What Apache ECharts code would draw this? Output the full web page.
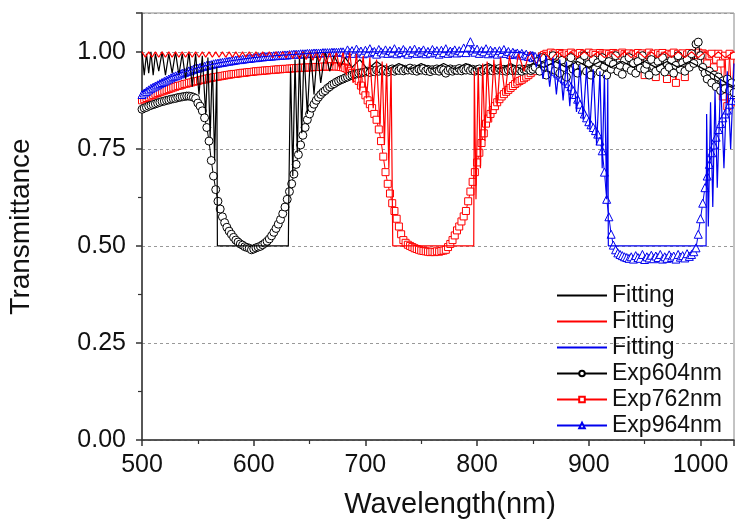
<!DOCTYPE html>
<html><head><meta charset="utf-8">
<script src="https://cdn.jsdelivr.net/npm/echarts@6/dist/echarts.min.js"></script>
<style>html,body{margin:0;padding:0;background:#fff}#c{width:735px;height:523px}</style>
</head><body><div id="c"></div>
<script>
// ---------- DATA ----------
const expWavelength = [
500,502,504,506,508,510,512,514,516,518,
520,522,524,526,528,530,532,534,536,538,
540,542,544,546,548,550,552,554,556,558,
560,562,564,566,568,570,572,574,576,578,
580,582,584,586,588,590,592,594,596,598,
600,602,604,606,608,610,612,614,616,618,
620,622,624,626,628,630,632,634,636,638,
640,642,644,646,648,650,652,654,656,658,
660,662,664,666,668,670,672,674,676,678,
680,682,684,686,688,690,692,694,696,698,
700,702,704,706,708,710,712,714,716,718,
720,722,724,726,728,730,732,734,736,738,
740,742,744,746,748,750,752,754,756,758,
760,762,764,766,768,770,772,774,776,778,
780,782,784,786,788,790,792,794,796,798,
800,802,804,806,808,810,812,814,816,818,
820,822,824,826,828,830,832,834,836,838,
840,842,844,846,848,850,852,854,856,858,
860,862,864,866,868,870,872,874,876,878,
880,882,884,886,888,890,892,894,896,898,
900,902,904,906,908,910,912,914,916,918,
920,922,924,926,928,930,932,934,936,938,
940,942,944,946,948,950,952,954,956,958,
960,962,964,966,968,970,972,974,976,978,
980,982,984,986,988,990,992,994,996,998,
1000,1002,1004,1006,1008,1010,1012,1014,1016,1018,
1020,1022,1024,1026,1028,1030];

const exp604 = [
.852,.855,.857,.860,.862,.864,.866,.868,.870,.872,
.873,.875,.876,.878,.879,.880,.882,.883,.884,.885,
.886,.886,.885,.883,.880,.868,.860,.848,.830,.805,
.770,.720,.680,.645,.615,.595,.575,.560,.548,.538,
.530,.522,.515,.510,.505,.502,.498,.496,.494,.490,
.492,.495,.497,.499,.503,.507,.512,.518,.526,.535,
.545,.556,.568,.583,.600,.620,.640,.660,.685,.710,
.735,.760,.785,.805,.825,.840,.855,.865,.875,.883,
.890,.896,.900,.906,.910,.915,.918,.922,.925,.928,
.930,.933,.935,.938,.940,.942,.943,.945,.946,.947,
.948,.950,.947,.952,.949,.953,.950,.955,.951,.954,
.948,.953,.956,.950,.954,.952,.957,.951,.955,.953,
.958,.952,.956,.950,.955,.953,.957,.951,.955,.949,
.954,.952,.956,.950,.955,.953,.945,.952,.956,.950,
.954,.952,.957,.951,.955,.953,.958,.952,.955,.950,
.954,.956,.950,.953,.957,.952,.955,.951,.956,.953,
.957,.952,.955,.950,.953,.956,.951,.954,.952,.956,
.950,.955,.953,.957,.952,.955,.960,.975,.950,.985,
.962,.940,.970,.958,.990,.952,.968,.945,.978,.960,
.935,.970,.985,.955,.965,.945,.975,.960,.990,.950,
.968,.940,.980,.958,.972,.948,.985,.962,.940,.975,
.955,.968,.990,.950,.965,.942,.978,.960,.985,.952,
.970,.945,.975,.958,.990,.955,.968,.940,.980,.962,
.950,.975,.958,.985,.948,.970,.960,.978,.945,.965,
.990,.955,.972,.950,.980,.960,.995,.970,1.020,1.025,
.990,.960,.945,.930,.950,.920,.940,.910,.935,.900,
.925,.905,.930,.900,.920,.895];

const exp762 = [
.875,.878,.881,.884,.887,.889,.892,.894,.896,.898,
.900,.902,.904,.906,.908,.910,.912,.913,.915,.917,
.918,.920,.921,.923,.924,.925,.927,.928,.929,.931,
.932,.933,.934,.935,.936,.937,.938,.939,.940,.941,
.942,.943,.943,.944,.945,.946,.946,.947,.948,.948,
.949,.950,.950,.951,.951,.952,.952,.953,.953,.954,
.954,.955,.955,.956,.956,.956,.957,.957,.958,.958,
.958,.959,.959,.959,.960,.960,.960,.961,.961,.961,
.961,.962,.962,.962,.962,.963,.963,.962,.962,.961,
.960,.958,.955,.950,.945,.940,.933,.925,.913,.900,
.888,.875,.865,.855,.840,.825,.800,.770,.730,.690,
.660,.635,.610,.590,.570,.550,.530,.515,.508,.503,
.500,.497,.494,.492,.490,.488,.487,.486,.485,.484,
.485,.484,.486,.485,.487,.488,.490,.497,.505,.515,
.527,.540,.550,.563,.576,.590,.615,.640,.665,.690,
.715,.740,.765,.790,.815,.828,.840,.850,.860,.870,
.878,.885,.891,.897,.902,.907,.912,.917,.921,.925,
.928,.932,.936,.940,.945,.950,.960,.970,.980,.988,
.992,.995,.990,.998,.993,.996,.990,.997,.994,.990,
.996,.992,.998,.990,.995,.993,.997,.990,.995,.993,
.998,.990,.996,.992,.985,.997,.993,.990,.996,.994,
.990,.997,.993,.995,.990,.998,.994,.992,.996,.990,
.995,.993,.997,.990,.996,.940,.993,.998,.990,.995,
.935,.996,.992,.997,.990,.930,.995,.993,.998,.920,
.995,.990,.996,.935,.993,.997,.990,.995,.992,.998,
.990,.996,.993,.970,.990,.995,.960,.980,.995,.970,
.885,.990,.860,.995,.870,.990];

const exp964 = [
.890,.894,.898,.902,.906,.909,.912,.915,.918,.921,
.924,.927,.930,.933,.936,.938,.940,.943,.945,.947,
.949,.951,.953,.955,.957,.958,.960,.962,.963,.965,
.966,.967,.969,.970,.971,.972,.973,.974,.975,.976,
.977,.978,.979,.980,.980,.981,.982,.983,.983,.984,
.985,.985,.986,.987,.987,.988,.988,.989,.989,.990,
.990,.991,.991,.992,.992,.992,.993,.993,.994,.994,
.994,.995,.995,.995,.996,.996,.996,.997,.997,.997,
.997,.998,.998,.998,.998,.999,.999,.999,.999,1.000,
1.000,.995,1.005,.998,1.003,.996,1.007,.999,1.002,.995,
1.004,.997,1.008,.999,1.001,.994,1.006,1.000,.997,1.005,
.996,1.003,.999,1.008,.995,1.002,.998,1.006,1.000,.994,
1.004,.998,1.007,.996,1.002,.999,1.005,.995,1.001,.997,
1.006,.999,1.003,.994,1.004,.998,1.008,.996,1.002,.999,
1.005,.997,1.003,.999,1.010,.998,1.012,1.026,1.004,.999,
1.007,.996,1.003,1.000,1.008,.995,1.004,.998,1.002,.994,
1.003,.997,1.006,.996,1.001,.993,.999,.995,.997,.992,
.996,.990,.994,.988,.991,.985,.988,.982,.984,.978,
.975,.970,.966,.960,.955,.950,.945,.940,.935,.930,
.925,.918,.910,.900,.890,.878,.865,.852,.840,.830,
.820,.812,.805,.797,.788,.770,.745,.690,.620,.575,
.530,.502,.490,.482,.478,.475,.472,.470,.468,.472,
.466,.475,.470,.468,.478,.465,.472,.469,.476,.467,
.474,.470,.478,.466,.472,.468,.477,.470,.474,.466,
.478,.471,.475,.469,.480,.473,.478,.485,.495,.530,
.570,.610,.650,.680,.710,.740,.760,.780,.800,.815,
.830,.840,.850,.865,.875,.890];

// Fitting curves: [wavelength, transmittance]
const fit604 = [
[500,1.0],[502,.94],[504,.995],[506,.945],[508,1.0],[510,.94],[512,.995],[515,.95],[518,1.0],[521,.94],
[524,.995],[527,.945],[530,1.0],[533,.94],[536,.995],[539,.93],[542,1.0],[545,.91],[548,.995],[551,.89],
[554,.99],[557,.84],[559,.985],[561,.78],[563,.975],[565,.72],[567,.96],[567.5,.5],[631,.5],[631.5,.64],
[633,.96],[635,.68],[637,.98],[639,.74],[641,.99],[643,.79],[645,1.0],[648,.84],[651,1.0],[654,.89],
[657,1.0],[660,.92],[664,1.0],[668,.95],[672,.99],[677,.96],[682,.985],[688,.96],[695,.98],[702,.955],
[710,.975],[720,.955],[730,.97],[740,.955],[750,.97],[760,.955],[770,.97],[780,.955],[790,.97],[800,.955],
[810,.97],[820,.955],[830,.97],[840,.955],[850,.97],[860,.96],[870,.975],[880,.96],[890,.975],[900,.96],
[910,.975],[920,.96],[930,.975],[940,.96],[950,.975],[960,.96],[970,.975],[980,.96],[990,.975],[1000,.96],
[1010,.945],[1020,.925],[1030,.91]];

const fit762 = [
[500,1],[503,.986],[506,1],[509,.986],[512,1],[515,.986],[518,1],[521,.986],[524,1],[527,.986],
[530,1],[533,.986],[536,1],[539,.986],[542,1],[545,.986],[548,1],[551,.986],[554,1],[557,.986],
[560,1],[563,.986],[566,1],[569,.986],[572,1],[575,.986],[578,1],[581,.986],[584,1],[587,.986],
[590,1],[593,.986],[596,1],[599,.986],[602,1],[605,.986],[608,1],[611,.986],[614,1],[617,.985],
[620,1],[623,.985],[626,1],[629,.984],[632,1],[635,.983],[638,1],[641,.982],[644,1],[647,.98],
[650,1],[653,.978],[656,1],[659,.975],[662,1],[665,.97],[668,1],[671,.965],[674,1],[677,.955],
[680,1],[683,.94],[686,1],[689,.92],[692,.995],[695,.9],[698,.99],[701,.88],[704,.985],[707,.855],
[710,.98],[713,.81],[715,.975],[717,.76],[719,.97],[721,.7],[723,.96],[724.5,.5],[797,.5],[797.5,.95],
[799,.62],[801,.96],[803,.7],[805,.97],[807,.77],[809,.975],[812,.82],[815,.98],[818,.86],[821,.985],
[825,.89],[829,.99],[833,.92],[837,.995],[842,.95],[847,1],[853,.97],[860,1],[866,.98],[872,1],
[878,.985],[884,1],[890,.985],[896,1],[902,.985],[908,1],[914,.985],[920,1],[926,.985],[932,1],
[938,.985],[944,1],[950,.985],[956,1],[962,.985],[968,1],[974,.985],[980,1],[986,.985],[992,1],
[998,.985],[1004,1],[1010,.985],[1016,1],[1022,.985],[1030,1]];

const fit964 = [
[500,.895],[505,.905],[510,.912],[515,.922],[520,.928],[525,.935],[530,.94],[535,.946],[540,.95],[545,.955],
[550,.959],[555,.963],[560,.966],[565,.969],[570,.972],[580,.977],[590,.981],[600,.985],[610,.988],[620,.99],
[630,.992],[640,.994],[650,.996],[660,.998],[670,.999],[680,1],[700,1],[720,1],[740,1],[760,1],
[780,1],[800,1],[820,1],[840,.998],[846,.99],[850,1],[853,.96],[856,.995],[859,.93],[862,.99],
[865,.91],[868,.985],[871,.89],[874,.98],[877,.875],[880,.975],[883,.86],[886,.97],[889,.845],[892,.965],
[895,.825],[898,.96],[901,.8],[904,.955],[907,.76],[910,.95],[912,.7],[914,.94],[916,.62],[917,.93],
[917.5,.5],[1005,.5],[1005.5,.84],[1007,.55],[1009,.87],[1011,.6],[1013,.9],[1015,.65],[1018,.93],[1021,.7],
[1024,.95],[1027,.75],[1030,.97]];

const xTicks = {min:500, max:1030, step:100};
const yTicks = {min:0, max:1.1, step:0.25};
const seriesNames = ['Fitting#1','Fitting#2','Fitting#3','Exp604nm','Exp762nm','Exp964nm'];

// ---------- CHART ----------
const zip = (xs, ys) => ys.map((y, i) => [xs[i], y]);
const FONT = 'Liberation Sans, Arial, sans-serif';
const axisCol = '#333';
const chart = echarts.init(document.getElementById('c'), null, {renderer:'canvas'});

function fitSeries(name, data, color){
  return {name, type:'line', data, symbol:'none', showSymbol:false, z:5,
    lineStyle:{color, width:1.2}, itemStyle:{color}, emphasis:{disabled:true}};
}
function expSeries(name, data, color, symbol, size, z){
  return {name, type:'line', data, symbol, symbolSize:size, showSymbol:true, z,
    lineStyle:{color, width:1}, itemStyle:{color:'#fff', borderColor:color, borderWidth:1},
    emphasis:{disabled:true}};
}

chart.setOption({
  animation:false,
  backgroundColor:'#fff',
  grid:{left:142, right:1, top:13, bottom:83, containLabel:false, outerBoundsMode:'none',
    show:true, borderColor:'#888', borderWidth:1},
  legend:{
    data:seriesNames.map(n => n.startsWith('Fitting') ? {name:n, itemStyle:{opacity:0}} : {name:n}),
    orient:'vertical', left:551, top:279,
    itemWidth:50, itemHeight:7, itemGap:3, selectedMode:false,
    formatter:n => n.startsWith('Fitting') ? 'Fitting' : n,
    textStyle:{fontFamily:FONT, fontSize:23, color:'#111'}
  },
  xAxis:{
    type:'value', min:xTicks.min, max:xTicks.max, interval:xTicks.step,
    axisLine:{lineStyle:{color:axisCol, width:1.5}},
    axisTick:{length:6, lineStyle:{color:axisCol, width:1.5}},
    minorTick:{show:true, splitNumber:2, length:4, lineStyle:{color:axisCol, width:1.2}},
    axisLabel:{fontFamily:FONT, fontSize:25, color:'#111', margin:13,
      formatter:v => (v % 100 === 0 ? String(v) : '')},
    splitLine:{show:false},
    name:'Wavelength(nm)', nameLocation:'middle', nameGap:50,
    nameTextStyle:{fontFamily:FONT, fontSize:29, color:'#111', padding:[0,0,0,24]}
  },
  yAxis:{
    type:'value', min:yTicks.min, max:yTicks.max, interval:yTicks.step,
    axisLine:{lineStyle:{color:axisCol, width:1.5}},
    axisTick:{length:6, lineStyle:{color:axisCol, width:1.5}},
    minorTick:{show:true, splitNumber:2, length:4, lineStyle:{color:axisCol, width:1.2}},
    axisLabel:{fontFamily:FONT, fontSize:25, color:'#111', margin:16,
      formatter:v => (Math.abs(v*4 - Math.round(v*4)) < 1e-6 ? v.toFixed(2) : '')},
    splitLine:{show:true, lineStyle:{color:'#999', type:[3,3], width:1}},
    name:'Transmittance', nameLocation:'middle', nameGap:107,
    nameTextStyle:{fontFamily:FONT, fontSize:28, color:'#111'}
  },
  series:[
    fitSeries(seriesNames[0], fit604, '#000'),
    fitSeries(seriesNames[1], fit762, '#ff0000'),
    fitSeries(seriesNames[2], fit964, '#0000ee'),
    expSeries(seriesNames[3], zip(expWavelength, exp604), '#000', 'circle', 8, 4),
    expSeries(seriesNames[4], zip(expWavelength, exp762), '#ff0000', 'rect', 7, 2),
    expSeries(seriesNames[5], zip(expWavelength, exp964), '#0000ee', 'triangle', 8, 3)
  ]
});
</script>
</body></html>
